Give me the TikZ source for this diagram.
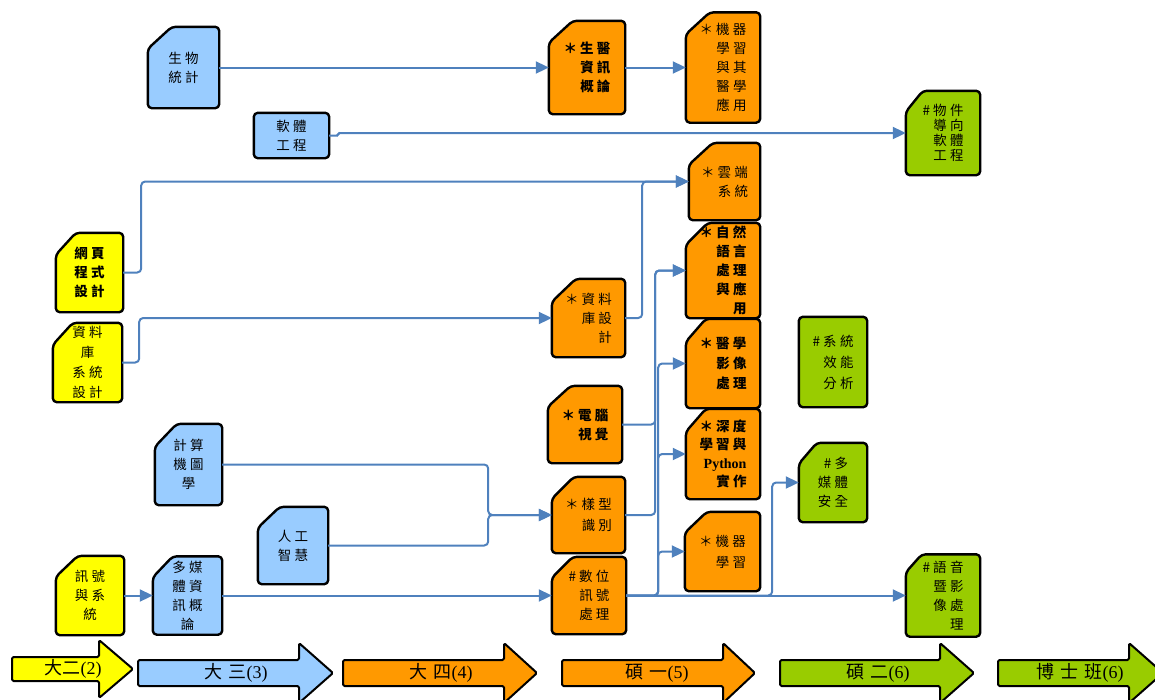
\documentclass[tikz,border=0pt]{standalone}
\usepackage{fontspec}
\setmainfont{Liberation Serif}
\newfontfamily\cjk[LetterSpace=24]{Noto Sans CJK TC}
\newfontfamily\cjkn{Noto Sans CJK TC}
\usetikzlibrary{arrows.meta,backgrounds}
\definecolor{cblue}{HTML}{99CCFF}
\definecolor{cyel}{HTML}{FFFF00}
\definecolor{corg}{HTML}{FF9900}
\definecolor{cgrn}{HTML}{99CC00}
\definecolor{cline}{HTML}{4F81BD}
\tikzset{
  card/.style={inner sep=0pt, text=black, font=\cjk\fontsize{13.5}{19}\selectfont},
  rcard/.style={card, align=right},
  ccard/.style={card, align=center},
  outline/.style={draw=black, line width=2.4pt, rounded corners=4pt, line join=round},
  conn/.style={draw=cline, line width=2pt, rounded corners=4pt, -{Triangle[length=13pt,width=12pt]}},
  bigarrow/.style={draw=black, line width=2pt, line join=round, rounded corners=1.5pt},
  steplabel/.style={inner sep=0pt, font=\fontsize{18}{18}\selectfont}
}
\begin{document}
\begin{tikzpicture}[x=1pt,y=-1pt]
\useasboundingbox (0,0) rectangle (1155,699);
% ---------- nodes ----------
\node[ccard, minimum width=71, minimum height=81] (bio) at (183.5,67.5) {生物\\統計};
\node[ccard, minimum width=75, minimum height=45] (soft) at (291.5,135.5) {軟體\\工程};
\node[rcard, font=\cjk\bfseries\fontsize{13.5}{19}\selectfont, minimum width=76, minimum height=93] (bmi) at (587,67.5) {＊生醫\\資訊\\概論};
\node[rcard, minimum width=74, minimum height=110] (mlmed) at (723,67.5) {＊機器\\學習\\與其\\醫學\\應用};
\node[rcard, font=\cjk\fontsize{13.5}{15}\selectfont, minimum width=74, minimum height=84] (oop) at (943,133) {\#物件\\導向\\軟體\\工程};
\node[rcard, minimum width=71, minimum height=77] (cloud) at (724.5,181.5) {＊雲端\\系統};
\node[ccard, font=\cjk\bfseries\fontsize{13.5}{19}\selectfont, minimum width=67, minimum height=79] (web) at (89.5,272.5) {網頁\\程式\\設計};
\node[rcard, font=\cjk\bfseries\fontsize{13.5}{19}\selectfont, minimum width=74, minimum height=95] (nlp) at (723,270.5) {＊自然\\語言\\處理\\與應\\用};
\node[rcard, minimum width=73, minimum height=78] (db) at (588.5,318) {＊資料\\庫設\\計};
\node[ccard, font=\cjk\fontsize{13.5}{20}\selectfont, minimum width=69, minimum height=79] (dbsys) at (87.5,362.5) {資料\\庫\\系統\\設計};
\node[rcard, font=\cjk\bfseries\fontsize{13.5}{20}\selectfont, minimum width=74, minimum height=89] (medimg) at (723,363.5) {＊醫學\\影像\\處理};
\node[rcard, font=\cjk\fontsize{13.5}{21}\selectfont, minimum width=68, minimum height=90] (perf) at (833,362) {\#系統\\效能\\分析};
\node[rcard, font=\cjk\bfseries\fontsize{13.5}{19}\selectfont, minimum width=74, minimum height=77] (cv) at (585,424.5) {＊電腦\\視覺};
\node[rcard, font=\cjk\bfseries\fontsize{13.5}{18.5}\selectfont, minimum width=74, minimum height=90] (dl) at (723,454) {＊深度\\學習與\\{\rmfamily\bfseries\fontsize{14}{18}\selectfont Python}\\實作};
\node[ccard, minimum width=67, minimum height=81] (cg) at (188.5,464.5) {計算\\機圖\\學};
\node[rcard, minimum width=68, minimum height=79] (mmsec) at (833,482.5) {\#多\\媒體\\安全};
\node[rcard, font=\cjk\fontsize{13.5}{21}\selectfont, minimum width=73, minimum height=76] (pr) at (588.5,515) {＊樣型\\識別};
\node[ccard, minimum width=70, minimum height=77] (ai) at (293,545.5) {人工\\智慧};
\node[rcard, font=\cjk\fontsize{13.5}{21}\selectfont, minimum width=75, minimum height=79] (ml) at (722.5,551.5) {＊機器\\學習};
\node[ccard, minimum width=68, minimum height=79] (sig) at (90,595.5) {訊號\\與系\\統};
\node[ccard, minimum width=69, minimum height=78] (mm) at (187.5,595.5) {多媒\\體資\\訊概\\論};
\node[rcard, minimum width=74, minimum height=77] (dsp) at (589,595.5) {\#數位\\訊號\\處理};
\node[rcard, minimum width=74, minimum height=82] (speech) at (943,595.5) {\#語音\\暨影\\像處\\理};
% ---------- outlines ----------
\begin{scope}[on background layer]
\foreach \n/\f/\cx/\cy in {bio/cblue/24/22, bmi/corg/24/22, mlmed/corg/24/22, oop/cgrn/17/21,
  cloud/corg/24/22, web/cyel/20/22, nlp/corg/22/22, db/corg/24/23, dbsys/cyel/20/22,
  medimg/corg/20/23, cv/corg/23/21, dl/corg/20/23, cg/cblue/22/23, mmsec/cgrn/18/21,
  pr/corg/22/22, ai/cblue/22/21, ml/corg/22/21, sig/cyel/22/21, mm/cblue/20/21,
  dsp/corg/21/21, speech/cgrn/16/18}
  \draw[outline, fill=\f] ([xshift=\cx pt]\n.north west) -- (\n.north east) -- (\n.south east)
     -- (\n.south west) -- ([yshift=-\cy pt]\n.north west) -- cycle;
\draw[outline, fill=cblue] (soft.north west) rectangle (soft.south east);
\draw[outline, fill=cgrn] (perf.north west) rectangle (perf.south east);
\end{scope}
% ---------- connectors ----------
\draw[conn] (bio.east) -- (bmi.west);
\draw[conn] (bmi.east) -- (mlmed.west);
\draw[conn, rounded corners=1.5pt] (soft.east) -- ++(9,0) |- (oop.west);
\draw[conn] (web.east) -- ++(18,0) |- (cloud.west);
\draw[conn] (db.east) -- ++(17,0) |- (cloud.west);
\draw[conn] (dbsys.east) -- ++(17,0) |- (db.west);
\draw[conn] (cv.east) -- ++(33,0) |- (nlp.west);
\draw[conn] (pr.east) -- ++(30,0) |- (nlp.west);
\draw[conn] (dsp.east) -- (speech.west);
\draw[conn] (dsp.east) -- ++(32,0) |- (medimg.west);
\draw[conn] (dsp.east) -- ++(32,0) |- (dl.west);
\draw[conn] (dsp.east) -- ++(32,0) |- (ml.west);
\draw[conn] (dsp.east) -- ++(146,0) |- (mmsec.west);
\draw[conn] (cg.east) -- ++(266,0) |- (pr.west);
\draw[conn] (ai.east) -- ++(160,0) |- (pr.west);
\draw[conn] (sig.east) -- (mm.west);
\draw[conn] (mm.east) -- (dsp.west);
% ---------- timeline arrows ----------
\draw[bigarrow, fill=cyel] (12,657) -- (99,657) -- (99,640) -- (133,669) -- (99,698) -- (99,681) -- (12,681) -- cycle;
\draw[bigarrow, fill=cblue] (138,660) -- (299,660) -- (299,643) -- (333,673) -- (299,703) -- (299,686) -- (138,686) -- cycle;
\draw[bigarrow, fill=corg] (343,660) -- (504,660) -- (504,643) -- (537,673) -- (504,703) -- (504,686) -- (343,686) -- cycle;
\draw[bigarrow, fill=corg] (562,660) -- (723,660) -- (723,643) -- (755,673) -- (723,703) -- (723,686) -- (562,686) -- cycle;
\draw[bigarrow, fill=cgrn] (780,660) -- (940,660) -- (940,643) -- (974,673) -- (940,703) -- (940,686) -- (780,686) -- cycle;
\draw[bigarrow, fill=cgrn] (998,660) -- (1129,660) -- (1129,643) -- (1163,673) -- (1129,703) -- (1129,686) -- (998,686) -- cycle;
\node[steplabel] (y2) at (73,669) {{\cjkn 大二}(2)};
\node[steplabel] (y3) at (236,673) {{\cjkn 大\hspace{6pt}三}(3)};
\node[steplabel] (y4) at (441,673) {{\cjkn 大\hspace{6pt}四}(4)};
\node[steplabel] (m1) at (657,673) {{\cjkn 碩\hspace{6pt}一}(5)};
\node[steplabel] (m2) at (878,673) {{\cjkn 碩\hspace{6pt}二}(6)};
\node[steplabel] (phd) at (1080,673) {{\cjkn 博\hspace{6pt}士\hspace{6pt}班}(6)};
\end{tikzpicture}
\end{document}
